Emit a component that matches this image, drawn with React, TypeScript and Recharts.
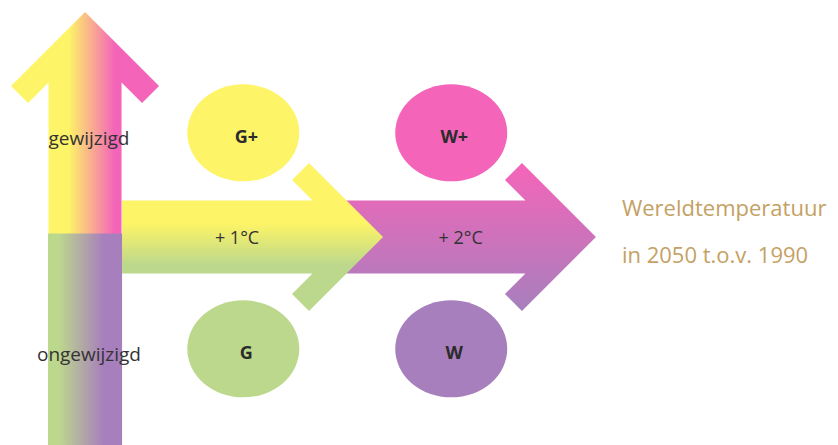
import React from 'react';
import { ComposedChart, XAxis, YAxis, Scatter, ReferenceLine, ReferenceArea } from 'recharts';

// x = wereldtemperatuur in °C (2050 t.o.v. 1990), y = luchtstroming (+1 gewijzigd, -1 ongewijzigd)
const xDomain = [-0.17, 3.86];
const yDomain = [-1.89, 2.23];

const YELLOW = '#fdf467';
const PINK = '#f465b9';
const GREEN = '#bcd88c';
const PURPLE = '#a87fbd';
const GOLD = '#c4a164';
const FONT = '"Open Sans", "Noto Sans", sans-serif';

const scenarios = [
  { name: 'G+', temp: 1, circ: 1, color: YELLOW },
  { name: 'W+', temp: 2, circ: 1, color: PINK },
  { name: 'G', temp: 1, circ: -1, color: GREEN },
  { name: 'W', temp: 2, circ: -1, color: PURPLE },
];

// arrows drawn back to front
const arrows = [
  { id: 'plus2', from: { temp: 1.489, circ: 0.036 }, to: { temp: 2.696, circ: 0.036 }, fill: 'url(#gradPlus2)' },
  { id: 'plus1', from: { temp: 0.417, circ: 0.036 }, to: { temp: 1.672, circ: 0.036 }, fill: 'url(#gradPlus1)' },
  { id: 'circ', from: { temp: 0.239, circ: -1.89 }, to: { temp: 0.239, circ: 2.12 }, fill: 'url(#gradUp)' },
];

// lower (ongewijzigd) part of the vertical arrow shaft
const unchangedPart = { x1: 0.061, x2: 0.417, y1: -1.89, y2: 0.068 };

const labels = [
  { text: 'gewijzigd', temp: 0.258, circ: 0.883, anchor: 'middle', size: 19, color: '#333' },
  { text: 'ongewijzigd', temp: 0.258, circ: -1.112, anchor: 'middle', size: 19, color: '#333' },
  { text: '+ 1°C', temp: 0.97, circ: -0.033, anchor: 'middle', size: 18, color: '#333' },
  { text: '+ 2°C', temp: 2.045, circ: -0.033, anchor: 'middle', size: 18, color: '#333' },
  { text: 'Wereldtemperatuur', temp: 2.821, circ: 0.231, anchor: 'start', size: 22, color: GOLD },
  { text: 'in 2050 t.o.v. 1990', temp: 2.821, circ: -0.205, anchor: 'start', size: 22, color: GOLD },
];

function arrowShape(fill: string) {
  return (p: any) => {
    const { x1, y1, x2, y2 } = p;
    const dx = x2 - x1;
    const dy = y2 - y1;
    const len = Math.hypot(dx, dy);
    const ux = dx / len;
    const uy = dy / len;
    const nx = -uy;
    const ny = ux;
    const S = 36.5; // half shaft
    const HW = 74; // half head
    const T = 17; // wing cut
    const notch = -HW - T + (HW - T - S);
    const pt = (a: number, b: number) => `${x2 + ux * a + nx * b},${y2 + uy * a + ny * b}`;
    const pts = [
      pt(0, 0), pt(-HW, HW), pt(-HW - T, HW - T), pt(notch, S), pt(-len, S),
      pt(-len, -S), pt(notch, -S), pt(-HW - T, -(HW - T)), pt(-HW, -HW),
    ];
    return <polygon points={pts.join(' ')} fill={fill} />;
  };
}

const Bubble = (p: any) => {
  const { cx, cy, payload } = p;
  return (
    <g>
      <ellipse cx={cx} cy={cy} rx={56} ry={48.5} fill={payload.color} />
      <text x={cx + 3} y={cy + 10} textAnchor="middle" fontFamily={FONT} fontWeight={700} fontSize={18} fill="#2b2b2b">
        {payload.name}
      </text>
    </g>
  );
};

const Label = (p: any) => {
  const { cx, cy, payload } = p;
  return (
    <text x={cx} y={cy} textAnchor={payload.anchor} fontFamily={FONT} fontSize={payload.size} fill={payload.color}>
      {payload.text}
    </text>
  );
};

export default function App() {
  return (
    <div style={{ position: 'absolute', left: 0, top: 0, width: 838, height: 445, background: '#fff' }}>
      <ComposedChart width={838} height={445} margin={{ top: 0, right: 0, bottom: 0, left: 0 }}>
        <defs>
          <linearGradient id="gradPlus1" x1="0" y1="0" x2="0" y2="1">
            <stop offset="0.41" stopColor={YELLOW} />
            <stop offset="0.69" stopColor={GREEN} />
          </linearGradient>
          <linearGradient id="gradPlus2" x1="0" y1="0" x2="0" y2="1">
            <stop offset="0.02" stopColor={PINK} />
            <stop offset="0.98" stopColor={PURPLE} />
          </linearGradient>
          <linearGradient id="gradUp" x1="0" y1="0" x2="1" y2="0">
            <stop offset="0.39" stopColor={YELLOW} />
            <stop offset="0.70" stopColor={PINK} />
          </linearGradient>
          <linearGradient id="gradDown" x1="0" y1="0" x2="1" y2="0">
            <stop offset="0.14" stopColor={GREEN} />
            <stop offset="0.75" stopColor={PURPLE} />
          </linearGradient>
        </defs>
        <XAxis type="number" dataKey="temp" domain={xDomain} hide allowDataOverflow />
        <YAxis type="number" dataKey="circ" domain={yDomain} hide allowDataOverflow />
        {arrows.map((a, i) => (
          <ReferenceLine
            key={a.id}
            segment={[{ x: a.from.temp, y: a.from.circ }, { x: a.to.temp, y: a.to.circ }]}
            ifOverflow="visible"
            shape={arrowShape(a.fill)}
            zIndex={10 + i}
          />
        ))}
        <ReferenceArea
          x1={unchangedPart.x1}
          x2={unchangedPart.x2}
          y1={unchangedPart.y1}
          y2={unchangedPart.y2}
          fill="url(#gradDown)"
          fillOpacity={1}
          stroke="none"
          ifOverflow="visible"
          zIndex={20}
        />
        <Scatter data={scenarios} shape={Bubble} isAnimationActive={false} zIndex={30} />
        <Scatter data={labels} shape={Label} isAnimationActive={false} zIndex={40} />
      </ComposedChart>
    </div>
  );
}
